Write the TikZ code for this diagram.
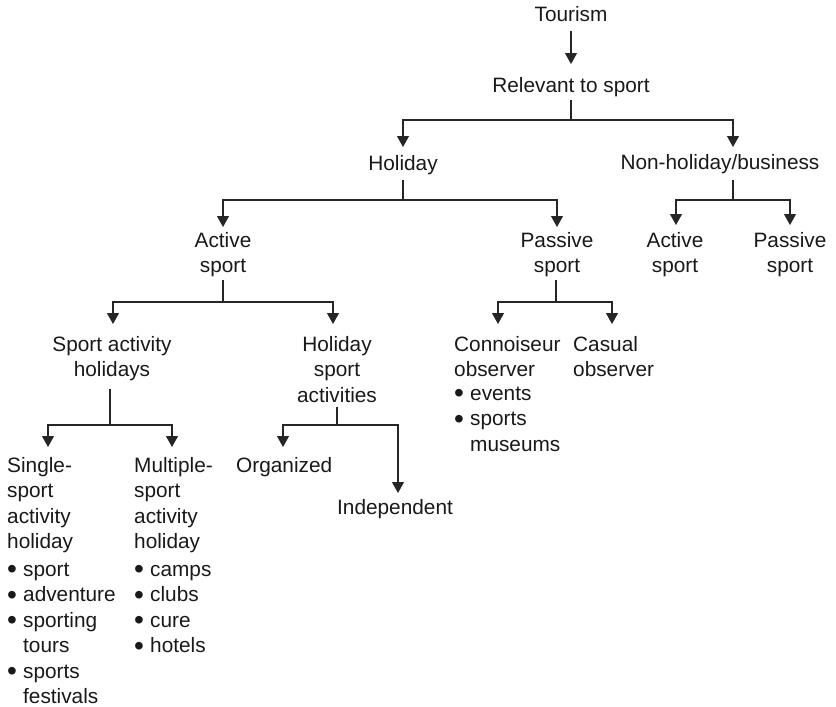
\documentclass[tikz,border=0pt]{standalone}
\usepackage{fontspec}
\setmainfont{Liberation Sans}
\usetikzlibrary{arrows.meta}
\newcommand{\bul}{\makebox[16pt][l]{\raisebox{-2.6pt}{\scalebox{1.35}{\textbullet}}}}
\newcommand{\ind}{\hspace*{16pt}}
\begin{document}
\begin{tikzpicture}[x=1pt,y=-1pt,
  lbl/.style={inner sep=0pt, font=\fontsize{20.8}{25.5}\selectfont, align=center, anchor=north, text=black!90},
  lbll/.style={lbl, align=left, anchor=north west},
  tie/.style={line width=1.2pt, black!85},
  conn/.style={tie, -{Triangle[length=11pt,width=12pt]}}
]
\useasboundingbox (0,0) rectangle (836,707);

% labels
\node[lbl] (tour) at (571,6) {Tourism};
\node[lbl] (rel) at (571,77) {Relevant to sport};
\node[lbl] (hol) at (403,155) {Holiday};
\node[lbl] (nhb) at (720,154) {Non-holiday/business};
\node[lbl] (act) at (223,232) {Active\\sport};
\node[lbl] (pas) at (557,232) {Passive\\sport};
\node[lbl] (act2) at (675,232) {Active\\sport};
\node[lbl] (pas2) at (790,232) {Passive\\sport};
\node[lbl] (sah) at (112,336) {Sport activity\\holidays};
\node[lbl] (hsa) at (337,336) {Holiday\\sport\\activities};
\node[lbll] (con) at (454,336) {Connoiseur\\observer\\[-2pt]\bul events\\\bul sports\\\ind museums};
\node[lbll] (cas) at (573,336) {Casual\\observer};
\node[lbll] (sin) at (7,457) {Single-\\sport\\activity\\holiday\\[2pt]\bul sport\\\bul adventure\\\bul sporting\\\ind tours\\\bul sports\\\ind festivals};
\node[lbll] (mul) at (134,457) {Multiple-\\sport\\activity\\holiday\\[2pt]\bul camps\\\bul clubs\\\bul cure\\\bul hotels};
\node[lbll] (org) at (236,457) {Organized};
\node[lbll] (ind) at (337,499) {Independent};

% branching points
\coordinate (f1) at (571,120);
\coordinate (f2) at (403,200);
\coordinate (f3) at (733,200);
\coordinate (f4) at (223,302);
\coordinate (f5) at (556,302);
\coordinate (f6) at (110,425);
\coordinate (f7) at (337,425);

% connectors
\draw[conn, shorten <=9pt, shorten >=13pt] (tour) -- (rel);

\draw[tie] ([yshift=-3.5pt]rel.south) -- (f1);
\draw[conn] (f1) -| ([yshift=8pt]hol.north);
\draw[conn] (f1) -| ([xshift=13pt,yshift=7pt]nhb.north);

\draw[tie] ([yshift=-5.5pt]hol.south) -- (f2);
\draw[conn] (f2) -| ([yshift=5pt]act.north);
\draw[conn] (f2) -| ([yshift=5pt]pas.north);

\draw[tie] ([xshift=13pt,yshift=-6.5pt]nhb.south) -- (f3);
\draw[conn] (f3) -| ([xshift=1pt,yshift=7pt]act2.north);
\draw[conn] (f3) -| ([yshift=7pt]pas2.north);

\draw[tie] ([yshift=-3pt]act.south) -- (f4);
\draw[conn] (f4) -| ([xshift=1pt,yshift=12pt]sah.north);
\draw[conn] (f4) -| ([xshift=-4pt,yshift=12pt]hsa.north);

\draw[tie] ([xshift=-1pt,yshift=-3pt]pas.south) -- (f5);
\draw[conn] (f5) -| ([xshift=44pt,yshift=12pt]con.north west);
\draw[conn] (f5) -| ([xshift=39pt,yshift=12pt]cas.north west);

\draw[tie] ([xshift=-2pt,yshift=-8pt]sah.south) -- (f6);
\draw[conn] (f6) -| ([xshift=41pt,yshift=10pt]sin.north west);
\draw[conn] (f6) -| ([xshift=38pt,yshift=10pt]mul.north west);

\draw[tie] ([yshift=-4pt]hsa.south) -- (f7);
\draw[conn] (f7) -| ([xshift=47pt,yshift=10pt]org.north west);
\draw[conn] (f7) -| ([xshift=61pt,yshift=6pt]ind.north west);
\end{tikzpicture}
\end{document}
